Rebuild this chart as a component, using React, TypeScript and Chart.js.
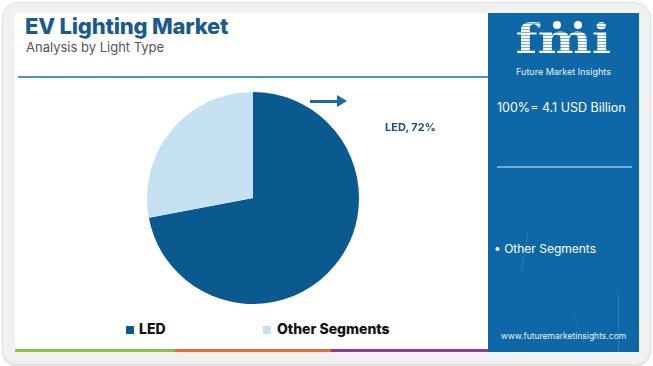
import React, { useEffect, useRef } from "react";
import { Chart, registerables } from "chart.js";

Chart.register(...registerables);

const categories = ["LED", "Other Segments"];
const shares = [72, 28];
const sliceColors = ["#0a5a8f", "#c6e1f2"];
const titleText = "EV Lighting Market";
const subtitleText = "Analysis by Light Type";
const totalText = "100%= 4.1 USD Billion";
const sideList = ["Other Segments"];

export default function App() {
  const ref = useRef<HTMLCanvasElement | null>(null);

  useEffect(() => {
    if (!ref.current) return;
    const chart = new Chart(ref.current, {
      type: "pie",
      data: {
        labels: categories,
        datasets: [
          {
            data: shares,
            backgroundColor: sliceColors,
            borderWidth: 0,
          },
        ],
      },
      options: {
        animation: false,
        responsive: false,
        maintainAspectRatio: false,
        layout: { padding: 0 },
        plugins: {
          legend: { display: false },
          tooltip: { enabled: false },
        },
      },
    });
    return () => chart.destroy();
  }, []);

  const font = "Inter, 'Open Sans', sans-serif";

  return (
    <div
      style={{
        position: "fixed",
        left: 0,
        top: 0,
        width: 653,
        height: 366,
        background: "#ffffff",
        fontFamily: font,
        overflow: "hidden",
      }}
    >
      {/* outer frame */}
      <div
        style={{
          position: "absolute",
          left: 2,
          top: 2,
          width: 647,
          height: 361,
          borderRadius: 16,
          background: "#f1f1f1",
          border: "1px solid #e2e2e2",
          boxShadow: "0 2px 3px rgba(0,0,0,0.12)",
        }}
      />
      {/* white main area */}
      <div
        style={{
          position: "absolute",
          left: 15,
          top: 13,
          width: 474,
          height: 337,
          background: "#ffffff",
        }}
      />
      {/* bottom colored strip */}
      <div style={{ position: "absolute", left: 15, top: 349, width: 160, height: 3, background: "#8bc34a" }} />
      <div style={{ position: "absolute", left: 175, top: 349, width: 156, height: 3, background: "#e8673a" }} />
      <div style={{ position: "absolute", left: 331, top: 349, width: 158, height: 3, background: "#8e3a96" }} />

      {/* title */}
      <div
        style={{
          position: "absolute",
          left: 25,
          top: 13,
          fontSize: 22,
          fontWeight: 800,
          color: "#1b5b8c",
          letterSpacing: -0.2,
          whiteSpace: "nowrap",
        }}
      >
        {titleText}
      </div>
      <div
        style={{
          position: "absolute",
          left: 26,
          top: 39,
          fontSize: 13,
          color: "#555555",
          whiteSpace: "nowrap",
        }}
      >
        {subtitleText}
      </div>
      <div
        style={{
          position: "absolute",
          left: 18,
          top: 76,
          width: 471,
          height: 2,
          background: "#4f92c4",
        }}
      />

      {/* pie */}
      <canvas
        ref={ref}
        width={212}
        height={212}
        style={{ position: "absolute", left: 147, top: 92, width: 212, height: 212 }}
      />

      {/* arrow */}
      <div style={{ position: "absolute", left: 310, top: 100, width: 28, height: 3, background: "#1d6aa3" }} />
      <div
        style={{
          position: "absolute",
          left: 337,
          top: 95,
          width: 0,
          height: 0,
          borderTop: "6.5px solid transparent",
          borderBottom: "6.5px solid transparent",
          borderLeft: "10px solid #1d6aa3",
        }}
      />
      <div
        style={{
          position: "absolute",
          left: 385,
          top: 120,
          fontSize: 11,
          fontWeight: 700,
          color: "#1b4f7c",
          whiteSpace: "nowrap",
        }}
      >
        {categories[0]}, {shares[0]}%
      </div>

      {/* legend */}
      <div style={{ position: "absolute", left: 126, top: 326, width: 8, height: 8, background: sliceColors[0] }} />
      <div
        style={{ position: "absolute", left: 139, top: 320, fontSize: 14, fontWeight: 800, color: "#111", whiteSpace: "nowrap" }}
      >
        {categories[0]}
      </div>
      <div style={{ position: "absolute", left: 263, top: 326, width: 8, height: 8, background: sliceColors[1] }} />
      <div
        style={{ position: "absolute", left: 277, top: 320, fontSize: 14, fontWeight: 800, color: "#111", whiteSpace: "nowrap" }}
      >
        {categories[1]}
      </div>

      {/* right panel */}
      <div
        style={{
          position: "absolute",
          left: 488,
          top: 13,
          width: 151,
          height: 339,
          background: "#0e68a8",
          overflow: "hidden",
        }}
      >
        {/* faint texture lines */}
        <div style={{ position: "absolute", left: 36, top: 220, width: 1, height: 40, background: "rgba(255,255,255,0.12)", transform: "rotate(10deg)" }} />
        <div style={{ position: "absolute", left: 130, top: 280, width: 1, height: 60, background: "rgba(255,255,255,0.12)" }} />
        <div style={{ position: "absolute", left: 90, top: 300, width: 1, height: 30, background: "rgba(255,255,255,0.1)", transform: "rotate(-20deg)" }} />

        {/* logo */}
        <div
          style={{
            position: "absolute",
            left: 0,
            top: 2,
            width: 151,
            display: "flex",
            justifyContent: "center",
          }}
        >
          <span
            style={{
              display: "inline-block",
              fontFamily: "'DejaVu Serif', serif",
              fontWeight: 700,
              fontSize: 41,
              lineHeight: "normal",
              color: "transparent",
              transform: "scaleX(1.25)",
              backgroundImage:
                "repeating-linear-gradient(180deg, #ffffff 0px, #ffffff 2px, #7fb2d8 2px, #7fb2d8 3px)",
              WebkitBackgroundClip: "text",
              backgroundClip: "text",
              whiteSpace: "nowrap",
            }}
          >
            fmi
          </span>
        </div>
        <div style={{ position: "absolute", left: 65, top: 8, width: 8, height: 8, borderRadius: 4, background: "#ffffff" }} />
        <div style={{ position: "absolute", left: 86, top: 8, width: 8, height: 8, borderRadius: 4, background: "#ffffff" }} />
        <div
          style={{
            position: "absolute",
            left: 0,
            top: 53,
            width: 151,
            textAlign: "center",
            fontSize: 9,
            lineHeight: "11px",
            color: "#e8f2fa",
            whiteSpace: "nowrap",
          }}
        >
          Future Market Insights
        </div>
        <div
          style={{ position: "absolute", left: 9, top: 87, fontSize: 12.5, color: "#ffffff", whiteSpace: "nowrap" }}
        >
          {totalText}
        </div>
        <div style={{ position: "absolute", left: 9, top: 153, width: 135, height: 2, background: "#6aaee0" }} />
        {sideList.map((s, i) => (
          <div
            key={s}
            style={{ position: "absolute", left: 6, top: 228 + i * 18, fontSize: 12, color: "#ffffff", whiteSpace: "nowrap" }}
          >
            • {s}
          </div>
        ))}
        <div
          style={{
            position: "absolute",
            left: 0,
            top: 318,
            width: 151,
            textAlign: "center",
            fontSize: 8.5,
            color: "#e8f2fa",
            whiteSpace: "nowrap",
          }}
        >
          www.futuremarketinsights.com
        </div>
      </div>
    </div>
  );
}
